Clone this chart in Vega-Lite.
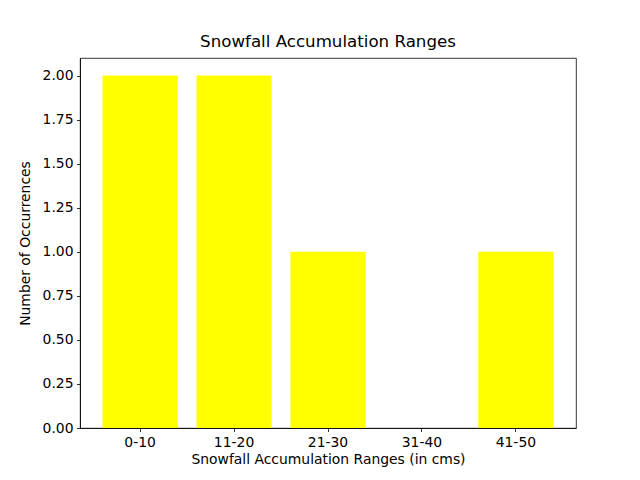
{
  "$schema": "https://vega.github.io/schema/vega-lite/v6.json",
  "autosize": {"type": "none"},
  "width": 496,
  "height": 370,
  "padding": {"left": 80, "top": 58, "right": 64, "bottom": 52},
  "background": "white",
  "title": {"text": "Snowfall Accumulation Ranges", "font": "DejaVu Sans", "fontSize": 16.67, "fontWeight": "normal", "color": "black", "offset": 7},
  "data": {"values": [
    {"range": "0-10", "count": 2},
    {"range": "11-20", "count": 2},
    {"range": "21-30", "count": 1},
    {"range": "31-40", "count": 0},
    {"range": "41-50", "count": 1}
  ]},
  "mark": {"type": "bar", "color": "#ffff00"},
  "encoding": {
    "x": {
      "field": "range", "type": "nominal", "sort": null,
      "scale": {"paddingInner": 0.2, "paddingOuter": 0.24},
      "axis": {"title": "Snowfall Accumulation Ranges (in cms)", "labelAngle": 0, "titlePadding": 4}
    },
    "y": {
      "field": "count", "type": "quantitative",
      "scale": {"domain": [0, 2.1], "nice": false, "zero": true},
      "axis": {"title": "Number of Occurrences", "values": [0, 0.25, 0.5, 0.75, 1, 1.25, 1.5, 1.75, 2], "format": ".2f", "titlePadding": 10}
    }
  },
  "config": {
    "view": {"stroke": "black", "strokeWidth": 0.8},
    "axis": {
      "grid": false,
      "domainColor": "black", "domainWidth": 0.8,
      "tickColor": "black", "tickWidth": 0.8, "tickSize": 3.5,
      "labelPadding": 3.5,
      "labelFont": "DejaVu Sans", "labelFontSize": 13.9, "labelColor": "black",
      "titleFont": "DejaVu Sans", "titleFontSize": 13.9, "titleFontWeight": "normal", "titleColor": "black"
    }
  }
}
